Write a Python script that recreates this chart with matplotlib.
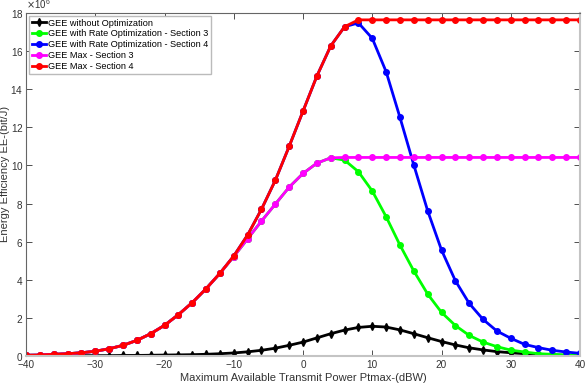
import matplotlib
matplotlib.use("Agg")
import matplotlib.pyplot as plt
import matplotlib.ticker as mticker
import numpy as np

plt.rcParams['font.family'] = ['Liberation Sans', 'DejaVu Sans']

# transmit power in dBW
ptmax = np.arange(-40, 41, 2)

# energy efficiency values, in units of 1e6 bit/J
gee_no_opt = [0.01, 0.01, 0.01, 0.01, 0.02, 0.02, 0.02, 0.03, 0.03, 0.04,
              0.05, 0.06, 0.07, 0.09, 0.12, 0.16, 0.22, 0.30, 0.41, 0.56,
              0.73, 0.95, 1.17, 1.36, 1.50, 1.56, 1.52, 1.37, 1.17, 0.96,
              0.76, 0.58, 0.43, 0.32, 0.23, 0.17, 0.12, 0.08, 0.06, 0.04, 0.03]

gee_rate_s3 = [0.04, 0.05, 0.09, 0.12, 0.17, 0.25, 0.38, 0.56, 0.82, 1.17,
               1.61, 2.17, 2.80, 3.53, 4.34, 5.22, 6.15, 7.08, 7.97, 8.86,
               9.58, 10.12, 10.40, 10.28, 9.67, 8.66, 7.31, 5.82, 4.46, 3.25,
               2.29, 1.60, 1.08, 0.73, 0.49, 0.31, 0.21, 0.12, 0.09, 0.05, 0.04]

gee_rate_s4 = [0.04, 0.05, 0.09, 0.12, 0.17, 0.25, 0.38, 0.56, 0.82, 1.17,
               1.61, 2.17, 2.80, 3.53, 4.34, 5.25, 6.35, 7.70, 9.22, 11.0,
               12.85, 14.69, 16.27, 17.28, 17.48, 16.67, 14.92, 12.52, 10.02, 7.62,
               5.56, 3.95, 2.76, 1.92, 1.31, 0.93, 0.61, 0.44, 0.30, 0.21, 0.14]

gee_max_s3 = [0.04, 0.05, 0.09, 0.12, 0.17, 0.25, 0.38, 0.56, 0.82, 1.17,
              1.61, 2.17, 2.80, 3.53, 4.34, 5.22, 6.15, 7.08, 7.97, 8.86,
              9.58, 10.12, 10.40, 10.42, 10.42, 10.42, 10.42, 10.42, 10.42, 10.42,
              10.42, 10.42, 10.42, 10.42, 10.42, 10.42, 10.42, 10.42, 10.42, 10.42, 10.42]

gee_max_s4 = [0.04, 0.05, 0.09, 0.12, 0.17, 0.25, 0.38, 0.56, 0.82, 1.17,
              1.61, 2.17, 2.80, 3.53, 4.34, 5.25, 6.35, 7.70, 9.22, 11.0,
              12.85, 14.69, 16.27, 17.28, 17.64, 17.64, 17.64, 17.64, 17.64, 17.64,
              17.64, 17.64, 17.64, 17.64, 17.64, 17.64, 17.64, 17.64, 17.64, 17.64, 17.64]

series = [
    (gee_no_opt, 'GEE without Optimization', 'black', 'd'),
    (gee_rate_s3, 'GEE with Rate Optimization - Section 3', '#00ff00', 'o'),
    (gee_rate_s4, 'GEE with Rate Optimization - Section 4', 'blue', 'o'),
    (gee_max_s3, 'GEE Max - Section 3', 'magenta', 'o'),
    (gee_max_s4, 'GEE Max - Section 4', 'red', 'o'),
]

fig = plt.figure(figsize=(5.86, 3.86), dpi=100)
ax = fig.add_axes([0.0444, 0.0777, 0.9454, 0.8886])

for vals, name, col, mk in series:
    ax.plot(ptmax, np.array(vals) * 1e6, color=col, marker=mk, markersize=4,
            linewidth=2, label=name)

ax.set_xlim(-40, 40)
ax.set_ylim(0, 18e6)
ax.set_xticks(np.arange(-40, 41, 10))
ax.set_yticks(np.arange(0, 18.1, 2) * 1e6)

fmt = mticker.ScalarFormatter(useMathText=True)
fmt.set_powerlimits((6, 6))
ax.yaxis.set_major_formatter(fmt)
ax.yaxis.get_offset_text().set_fontsize(7)
ax.yaxis.get_offset_text().set_color('#333333')

ax.tick_params(direction='in', top=True, right=True, labelsize=7.2,
               colors='#333333', length=4, width=0.6)
ax.tick_params(axis='y', pad=2)
ax.tick_params(axis='x', pad=3)
for side in ['left', 'top']:
    ax.spines[side].set_color('#666666')
    ax.spines[side].set_linewidth(0.8)
for side in ['bottom', 'right']:
    ax.spines[side].set_color('#c4c4c4')
    ax.spines[side].set_linewidth(1.5)

ax.set_xlabel('Maximum Available Transmit Power Ptmax-(dBW)', fontsize=8,
              color='#333333', labelpad=2)
ax.set_ylabel('Energy Efficiency EE-(bit/J)', fontsize=8, color='#333333')
ax.yaxis.set_label_coords(-0.029, 0.53)

leg = ax.legend(loc='upper left', fontsize=6.6, fancybox=False, framealpha=1,
                edgecolor='#bbbbbb', borderaxespad=0.3, handlelength=1.6,
                handletextpad=0.15, labelspacing=0.2, borderpad=0.3)
leg.get_frame().set_linewidth(1.0)

fig.savefig('out.png', dpi=100)
